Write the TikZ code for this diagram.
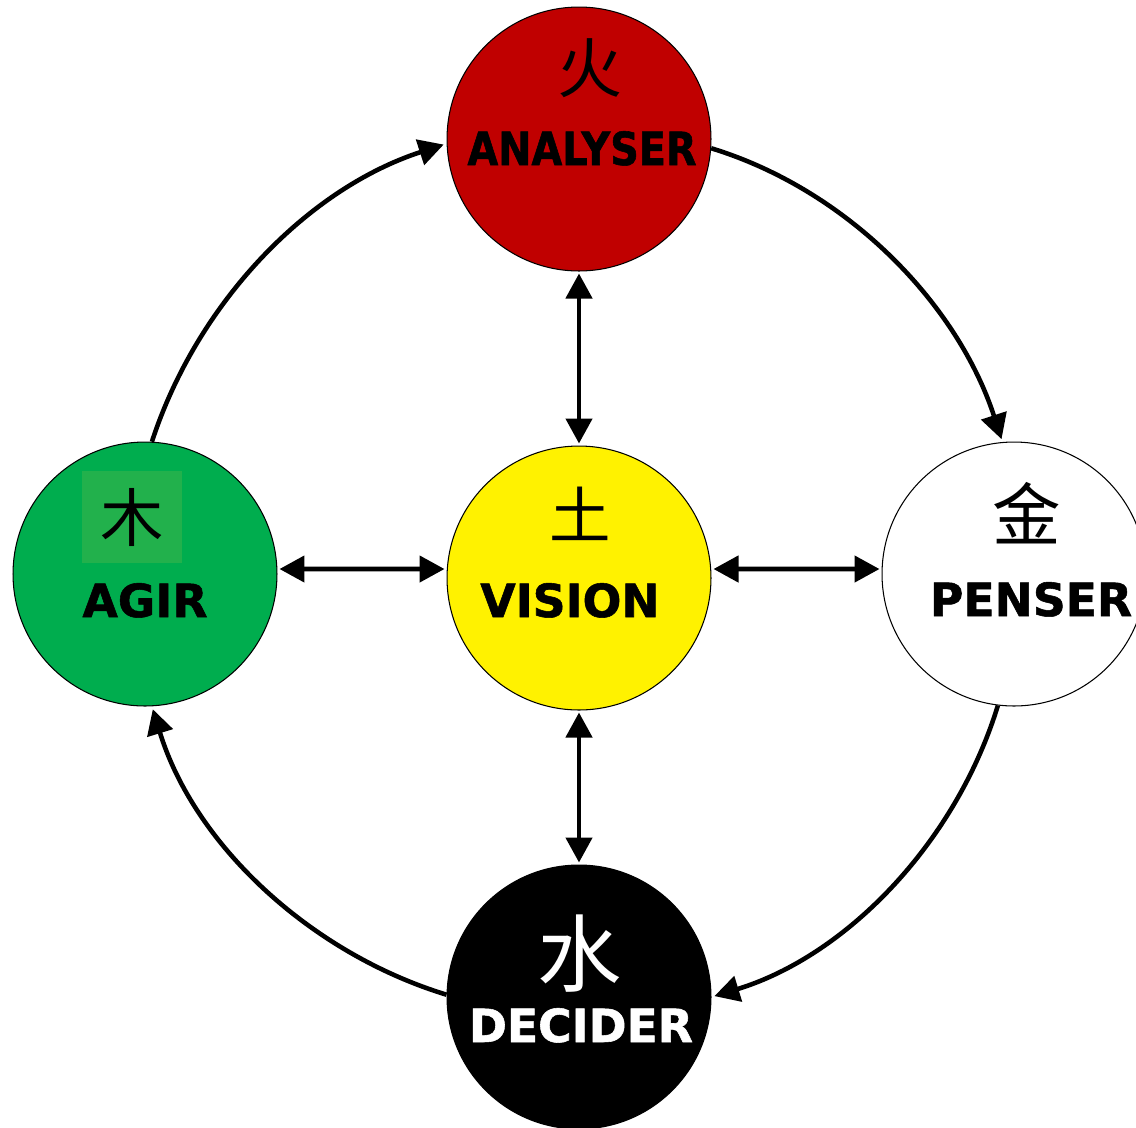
\documentclass[tikz,border=0pt]{standalone}
\usepackage{fontspec}
\usetikzlibrary{arrows.meta}
\newfontfamily\lab[BoldFeatures={FakeBold=1.2}]{DejaVu Sans}
\newfontfamily\labn[FakeStretch=0.87,BoldFeatures={FakeBold=1.2}]{DejaVu Sans}
\newfontfamily\cjk{Noto Sans CJK SC}
\definecolor{fire}{RGB}{192,0,0}
\definecolor{wood}{RGB}{0,173,78}
\definecolor{woodlight}{RGB}{34,177,76}
\definecolor{earth}{RGB}{255,242,0}
\tikzset{
  x=0.02cm, y=0.02cm,
  elem/.style={circle, draw=black, line width=0.6pt, minimum size=5.28cm, inner sep=0pt},
  lbl/.style={anchor=base, inner sep=0pt, font=\lab\bfseries\fontsize{26}{30}\selectfont},
  glyph/.style={inner sep=0pt, font=\cjk},
  cyc/.style={line width=2.6pt, -{Triangle[length=0.5cm,width=0.52cm]}, shorten >=0.06cm},
  dbl/.style={line width=2.6pt, {Triangle[length=0.5cm,width=0.52cm]}-{Triangle[length=0.5cm,width=0.52cm]}, shorten >=0.04cm, shorten <=0.04cm}
}
\begin{document}
\begin{tikzpicture}
\useasboundingbox (0,0) rectangle (1136,-1127);
\clip (0,0) rectangle (1136,-1127);
% circles
\node[elem, fill=fire]  (analyser) at (579,-139) {};
\node[elem, fill=earth] (vision)   at (579,-578) {};
\node[elem, fill=wood]  (agir)     at (145,-574) {};
\node[elem, fill=white] (penser)   at (1014,-574) {};
\node[elem, fill=black] (decider)  at (579,-997) {};
% light square behind wood glyph
\node[fill=woodlight, minimum width=2cm, minimum height=1.84cm, inner sep=0pt] (woodsq) at (132,-517) {};
% glyphs
\node[glyph, font=\cjk\fontsize{37}{40}\selectfont] (fireg) at (590,-68) {火};
\node[glyph, font=\cjk\fontsize{35}{40}\selectfont] (earthg) at (580,-514) {土};
\node[glyph, font=\cjk\fontsize{36}{40}\selectfont] (woodg) at (132,-517) {木};
\node[glyph, font=\cjk\fontsize{39}{42}\selectfont] (metalg) at (1027,-513) {金};
\node[glyph, text=white, font=\cjk\fontsize{48}{50}\selectfont] (waterg) at (580,-954) {水};
% labels
\node[lbl, font=\labn\bfseries\fontsize{26}{30}\selectfont] (analyserT) at (582,-165) {ANALYSER};
\node[lbl] (visionT) at (570,-617) {VISION};
\node[lbl] (agirT) at (145,-617) {AGIR};
\node[lbl] (penserT) at (1031,-616) {PENSER};
\node[lbl, text=white] (deciderT) at (581,-1042) {DECIDER};
% cycle arcs
\draw[cyc] (agir.87) to[out=72, in=198, looseness=0.89] (analyser.182);
\draw[cyc] (analyser.356) to[out=-17, in=108, looseness=0.89] (penser.95);
\draw[cyc] (penser.263) to[out=-107, in=17, looseness=0.89] (decider.0);
\draw[cyc] (decider.179) to[out=163, in=287, looseness=0.89] (agir.273);
% straight double arrows
\draw[dbl] (analyser.south) -- (vision.north);
\draw[dbl] (vision.south) -- (decider.north);
\draw[dbl] ([yshift=0.1cm]agir.east) -- ([yshift=0.18cm]vision.west);
\draw[dbl] ([yshift=0.18cm]vision.east) -- ([yshift=0.1cm]penser.west);
\end{tikzpicture}
\end{document}
